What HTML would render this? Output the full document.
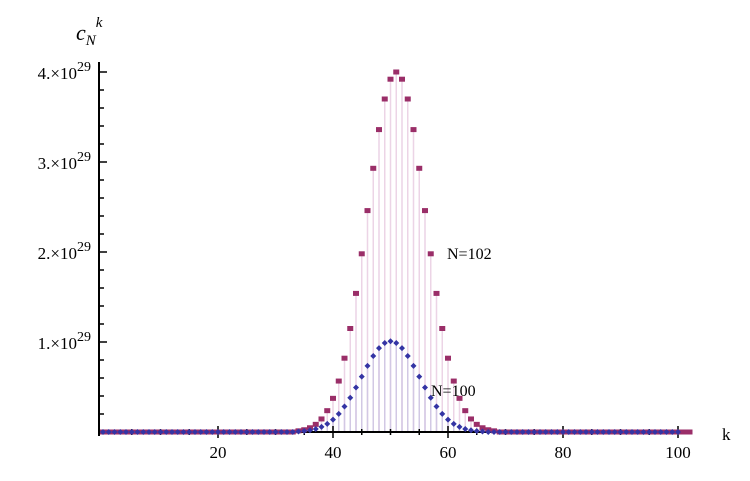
<!DOCTYPE html>
<html><head><meta charset="utf-8"><style>
body{margin:0;background:#fff}
svg text{font-family:"Liberation Serif",serif;fill:#000}
</style></head><body>
<svg width="750" height="476" viewBox="0 0 750 476">
<g id="stems"></g>
<g id="axes"></g>
<g id="marks"></g>
<text x="76" y="40" font-size="22" font-style="italic">c<tspan font-size="15" dy="5">N</tspan><tspan font-size="15" dy="-18">k</tspan></text>
<text x="722" y="440" font-size="17">k</text>
<text x="447" y="259" font-size="16">N=102</text>
<text x="431" y="396" font-size="16">N=100</text>
</svg>
<script>
// values in units of 1e29, k from 34..68 / 34..66 (others ~0)
const kStart102 = 34;
const series102 = [0.013,0.025,0.047,0.085,0.145,0.237,0.374,0.566,0.82,1.15,1.54,1.98,2.46,2.93,3.36,3.70,3.92,4.00,3.92,3.70,3.36,2.93,2.46,1.98,1.54,1.15,0.82,0.566,0.374,0.237,0.145,0.085,0.047,0.025,0.013];
const kStart100 = 34;
const series100 = [0.006,0.011,0.020,0.034,0.057,0.090,0.137,0.201,0.283,0.381,0.494,0.615,0.735,0.844,0.932,0.989,1.009,0.989,0.932,0.844,0.735,0.615,0.494,0.381,0.283,0.201,0.137,0.090,0.057,0.034,0.020,0.011,0.006];
const n102 = 102, n100 = 100;
const xTicks = [20,40,60,80,100];
const yTicks = [1,2,3,4];
const yTickLabels = ["1.×10","2.×10","3.×10","4.×10"];

const NS="http://www.w3.org/2000/svg";
const X = k => 103 + k*5.75;
const Y = v => 432 - v*90;
function val(arr,start,k){const i=k-start;return (i>=0&&i<arr.length)?arr[i]:0;}
function mk(tag,attrs,parent){const e=document.createElementNS(NS,tag);for(const a in attrs)e.setAttribute(a,attrs[a]);parent.appendChild(e);return e;}
const stems=document.getElementById('stems'),axes=document.getElementById('axes'),marks=document.getElementById('marks');

for(let k=0;k<=n102;k++){
  const v=val(series102,kStart102,k);
  const l=mk('line',{x1:X(k),x2:X(k),y1:432,y2:Y(v),stroke:'#ecd4e6','stroke-width':1.5},stems);
  
  
}
for(let k=0;k<=n100;k++){
  const v=val(series100,kStart100,k);
  const l=mk('line',{x1:X(k),x2:X(k),y1:432,y2:Y(v),stroke:'#d2c8e4','stroke-width':1.5},stems);
  
  
}
mk('line',{x1:98,x2:690,y1:432,y2:432,stroke:'#000','stroke-width':2},axes);
mk('line',{x1:99,x2:99,y1:62,y2:436,stroke:'#000','stroke-width':2},axes);
for(let t=5;t<=115;t+=5){
  if(X(t)>688)break;
  const major=t%20===0;
  mk('line',{x1:X(t),x2:X(t),y1:major?426:429,y2:major?438:435,stroke:'#000','stroke-width':1.5},axes);
}
xTicks.forEach(t=>{
  const tx=mk('text',{x:X(t),y:458,'font-size':17,'text-anchor':'middle'},axes);
  tx.textContent=t;
  
  
});
for(let v=0.2;v<=4.11;v+=0.2){
  const major=Math.abs(v-Math.round(v))<0.01;
  mk('line',{x1:99,x2:major?107:104,y1:Y(v),y2:Y(v),stroke:'#000','stroke-width':1.5},axes);
}
yTicks.forEach((v,i)=>{
  const tx=mk('text',{x:77,y:Y(v)+7,'font-size':17,'text-anchor':'end'},axes);
  tx.textContent=yTickLabels[i];
  
  
  const e=mk('text',{x:77,y:Y(v)-1,'font-size':14},axes);
  e.textContent='29';
  
  
});
for(let k=0;k<=n102;k++){
  const v=val(series102,kStart102,k);
  const r=mk('rect',{x:X(k)-3,y:Y(v)-2.5,width:6,height:5,fill:'#9a2e68'},marks);
  
  
}
for(let k=0;k<=n100;k++){
  const v=val(series100,kStart100,k);
  const x=X(k),y=Y(v);
  const p=mk('polygon',{points:`${x},${y-3} ${x+3},${y} ${x},${y+3} ${x-3},${y}`,fill:'#3434a4'},marks);
  
  
}
</script>
</body></html>
